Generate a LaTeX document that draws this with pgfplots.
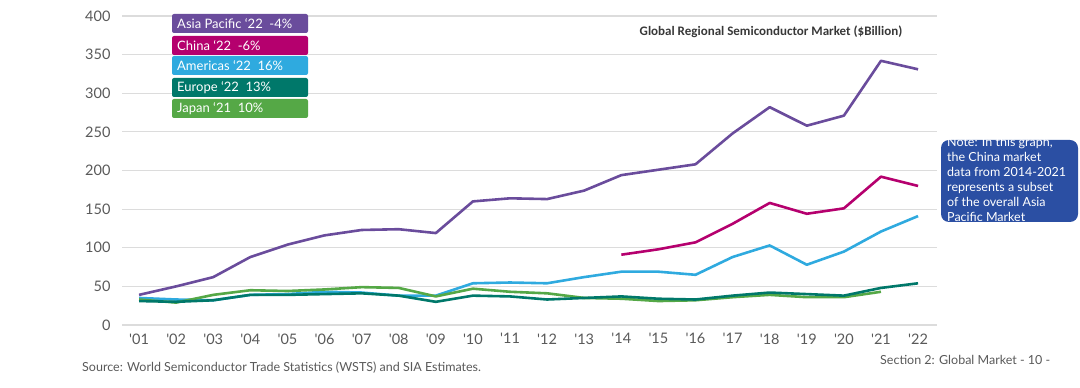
\documentclass[border=0pt]{standalone}
\usepackage{pgfplots}
\pgfplotsset{compat=1.18}
\usepackage{fontspec}
\setmainfont{Lato}
\newfontfamily\titlefont{Carlito}
\definecolor{cAsia}{HTML}{6A4C9C}
\definecolor{cChina}{HTML}{B5006E}
\definecolor{cAmer}{HTML}{2FAADF}
\definecolor{cEuro}{HTML}{00786A}
\definecolor{cJapan}{HTML}{55A846}
\definecolor{cNote}{HTML}{2B4FA3}
\definecolor{cGrid}{HTML}{DCDCDC}
\definecolor{cText}{HTML}{595959}
\newcommand{\q}{\textquotesingle}
\pgfplotstableread{
x asia amer euro
1 39 35 31
2 50 33 30
3 62 32 32
4 88 39 39
5 104 40 39
6 116 43 40
7 123 42 41
8 124 38 38
9 119 38 30
10 160 54 38
11 164 55 37
12 163 54 33
13 174 62 35
14 194 69 37
15 201 69 34
16 208 65 33
17 248 88 38
18 282 103 42
19 258 78 40
20 271 95 38
21 342 121 48
22 331 141 54
}\tblMain
\pgfplotstableread{
x japan
1 33
2 29
3 39
4 45
5 44
6 46
7 49
8 48
9 37
10 47
11 43
12 41
13 35
14 34
15 31
16 32
17 36
18 39
19 36
20 36
21 43
}\tblJapan
\pgfplotstableread{
x china
14 91
15 98
16 107
17 131
18 158
19 144
20 151
21 192
22 180
}\tblChina
\begin{document}
\begin{tikzpicture}[x=1pt,y=1pt]
\useasboundingbox (0,0) rectangle (1080,388);
\begin{axis}[
  at={(122pt,63pt)}, anchor=south west,
  scale only axis, width=815pt, height=309pt,
  xmin=0.54, xmax=22.51, ymin=0, ymax=400,
  axis line style={draw=none},
  ymajorgrids, grid style={cGrid, line width=1.2pt},
  ytick={0,50,...,400},
  xtick={1,...,22},
  xticklabels={\q01,\q02,\q03,\q04,\q05,\q06,\q07,\q08,\q09,\q10,\q11,\q12,\q13,\q14,\q15,\q16,\q17,\q18,\q19,\q20,\q21,\q22},
  major tick length=0pt,
  tick style={draw=none},
  ticklabel style={font=\fontsize{14.5}{16}\selectfont, text=cText},
  yticklabel style={xshift=-8pt},
  xticklabel style={yshift=-5pt},
  /pgf/number format/assume math mode=true,
  clip=false,
  every axis plot/.style={line width=2.6pt, line join=round, no markers},
]
\addplot[cAmer] table[x=x,y=amer]{\tblMain};
\addplot[cJapan] table[x=x,y=japan]{\tblJapan};
\addplot[cEuro] table[x=x,y=euro]{\tblMain};
\addplot[cChina] table[x=x,y=china]{\tblChina};
\addplot[cAsia] table[x=x,y=asia]{\tblMain};
\end{axis}
% legend boxes
\foreach \yc/\col/\txt in {364.5/cAsia/{Asia Pacific ‘22\ \ -4\%},342.5/cChina/{China ‘22\ \ -6\%},322.5/cAmer/{Americas ‘22\ \ 16\%},300.5/cEuro/{Europe ‘22\ \ 13\%},279.5/cJapan/{Japan ‘21\ \ 10\%}}{
  \fill[\col, rounded corners=2pt] (172,\yc-9.5) rectangle (308,\yc+9.5);
  \node[anchor=west, text=white, inner sep=0pt, font=\fontsize{13}{15}\selectfont] at (177,\yc) {\txt};
}
% title
\node[font=\titlefont\bfseries\fontsize{13}{15}\selectfont, text=black!78, inner sep=0pt] at (771,356) {Global Regional Semiconductor Market (\$Billion)};
% note box
\fill[cNote, rounded corners=8pt] (941,166) rectangle (1078,248);
\begin{scope}
\clip (941,166) rectangle (1078,248);
\node[anchor=north west, text=white, inner sep=0pt, align=left, font=\fontsize{12.5}{15}\selectfont] at (947,251) {Note: In this graph,\\the China market\\data from 2014-2021\\represents a subset\\of the overall Asia\\Pacific Market};
\end{scope}
% footer
\node[anchor=west, inner sep=0pt, text=cText, font=\fontsize{12.5}{14}\selectfont] at (82,20) {Source: World Semiconductor Trade Statistics (WSTS) and SIA Estimates.};
\node[anchor=west, inner sep=0pt, text=cText, font=\fontsize{12.5}{14}\selectfont] at (880,28) {Section 2: Global Market - 10 -};
\end{tikzpicture}
\end{document}
